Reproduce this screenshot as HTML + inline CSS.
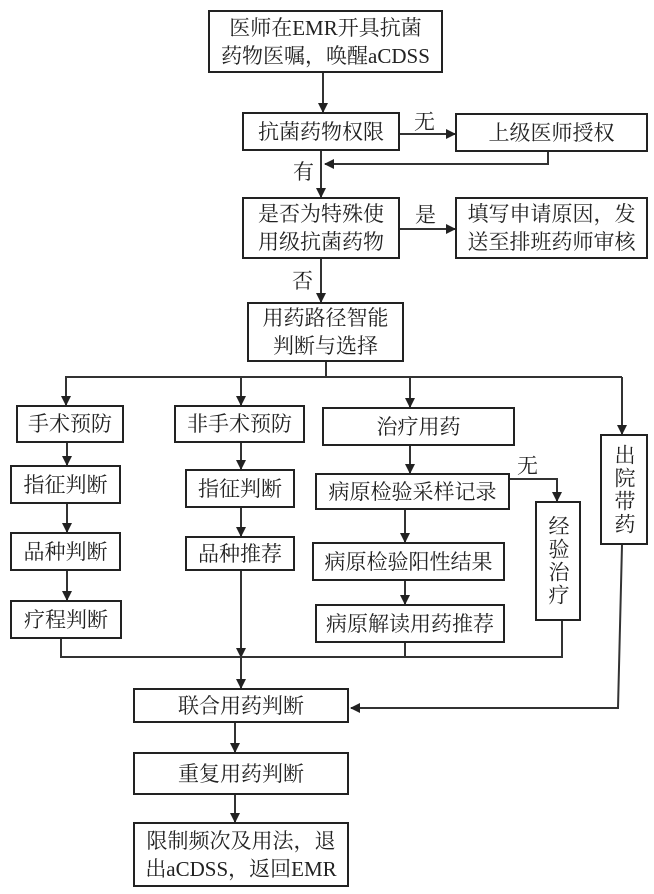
<!DOCTYPE html>
<html><head><meta charset="utf-8"><style>
body{margin:0;width:654px;height:894px;background:#fff;position:relative;overflow:hidden;font-family:"Liberation Serif","Noto Serif CJK SC",serif;color:#222}
.b{position:absolute;border:2.5px solid #222;box-sizing:border-box;display:flex;align-items:center;justify-content:center;text-align:center;font-size:21px;line-height:28px;background:#fff;white-space:nowrap}
.v{writing-mode:vertical-rl;letter-spacing:2px}
.t{position:absolute;font-size:21px}
svg{position:absolute;left:0;top:0}
</style></head><body>
<svg width="654" height="894">
<defs><marker id="a" markerWidth="10" markerHeight="10" refX="9" refY="5" orient="auto" markerUnits="userSpaceOnUse"><path d="M0,0 L10,5 L0,10 z" fill="#222"/></marker></defs>
<g stroke="#333" stroke-width="2" fill="none">
<line x1="323" y1="73" x2="323" y2="112" marker-end="url(#a)"/>
<line x1="400" y1="134" x2="455" y2="134" marker-end="url(#a)"/>
<polyline points="548,152 548,164 325,164" marker-end="url(#a)"/>
<line x1="321" y1="151" x2="321" y2="197" marker-end="url(#a)"/>
<line x1="400" y1="229" x2="455" y2="229" marker-end="url(#a)"/>
<line x1="321" y1="259" x2="321" y2="302" marker-end="url(#a)"/>
<line x1="326" y1="362" x2="326" y2="377"/>
<line x1="65" y1="377" x2="622" y2="377"/>
<line x1="66" y1="377" x2="66" y2="405" marker-end="url(#a)"/>
<line x1="241" y1="377" x2="241" y2="405" marker-end="url(#a)"/>
<line x1="410" y1="377" x2="410" y2="407" marker-end="url(#a)"/>
<line x1="622" y1="377" x2="622" y2="434" marker-end="url(#a)"/>
<line x1="67" y1="443" x2="67" y2="465" marker-end="url(#a)"/>
<line x1="67" y1="504" x2="67" y2="532" marker-end="url(#a)"/>
<line x1="67" y1="571" x2="67" y2="600" marker-end="url(#a)"/>
<line x1="241" y1="443" x2="241" y2="469" marker-end="url(#a)"/>
<line x1="241" y1="508" x2="241" y2="536" marker-end="url(#a)"/>
<line x1="241" y1="571" x2="241" y2="657" marker-end="url(#a)"/>
<line x1="241" y1="657" x2="241" y2="688" marker-end="url(#a)"/>
<line x1="410" y1="446" x2="410" y2="473" marker-end="url(#a)"/>
<line x1="405" y1="510" x2="405" y2="542" marker-end="url(#a)"/>
<line x1="405" y1="581" x2="405" y2="604" marker-end="url(#a)"/>
<polyline points="510,479 557,479 557,501" marker-end="url(#a)"/>
<polyline points="61,639 61,657 562,657 562,621"/>
<line x1="405" y1="643" x2="405" y2="657"/>
<polyline points="622,545 618,708 351,708" marker-end="url(#a)"/>
<line x1="235" y1="723" x2="235" y2="752" marker-end="url(#a)"/>
<line x1="235" y1="795" x2="235" y2="822" marker-end="url(#a)"/>
</g></svg>
<div class="b" style="left:208px;top:10px;width:235px;height:63px">医师在EMR开具抗菌<br>药物医嘱，唤醒aCDSS</div>
<div class="b" style="left:242px;top:112px;width:158px;height:39px">抗菌药物权限</div>
<div class="b" style="left:455px;top:113px;width:193px;height:39px">上级医师授权</div>
<div class="b" style="left:242px;top:197px;width:158px;height:62px">是否为特殊使<br>用级抗菌药物</div>
<div class="b" style="left:455px;top:197px;width:193px;height:62px">填写申请原因，发<br>送至排班药师审核</div>
<div class="b" style="left:247px;top:302px;width:157px;height:60px">用药路径智能<br>判断与选择</div>
<div class="t" style="left:414px;top:106px">无</div>
<div class="t" style="left:293px;top:156px">有</div>
<div class="t" style="left:415px;top:199px">是</div>
<div class="t" style="left:292px;top:265px">否</div>
<div class="t" style="left:517px;top:450px">无</div>
<div class="b" style="left:16px;top:405px;width:108px;height:38px">手术预防</div>
<div class="b" style="left:10px;top:465px;width:111px;height:39px">指征判断</div>
<div class="b" style="left:10px;top:532px;width:111px;height:39px">品种判断</div>
<div class="b" style="left:10px;top:600px;width:112px;height:39px">疗程判断</div>
<div class="b" style="left:174px;top:405px;width:131px;height:38px">非手术预防</div>
<div class="b" style="left:185px;top:469px;width:110px;height:39px">指征判断</div>
<div class="b" style="left:185px;top:536px;width:110px;height:35px">品种推荐</div>
<div class="b" style="left:322px;top:407px;width:193px;height:39px">治疗用药</div>
<div class="b" style="left:315px;top:473px;width:195px;height:37px">病原检验采样记录</div>
<div class="b" style="left:312px;top:542px;width:193px;height:39px">病原检验阳性结果</div>
<div class="b" style="left:315px;top:604px;width:190px;height:39px">病原解读用药推荐</div>
<div class="b v" style="left:535px;top:501px;width:46px;height:120px">经验治疗</div>
<div class="b v" style="left:600px;top:434px;width:48px;height:111px">出院带药</div>
<div class="b" style="left:133px;top:688px;width:216px;height:35px">联合用药判断</div>
<div class="b" style="left:133px;top:752px;width:216px;height:43px">重复用药判断</div>
<div class="b" style="left:133px;top:822px;width:216px;height:65px">限制频次及用法，退<br>出aCDSS，返回EMR</div>
</body></html>
